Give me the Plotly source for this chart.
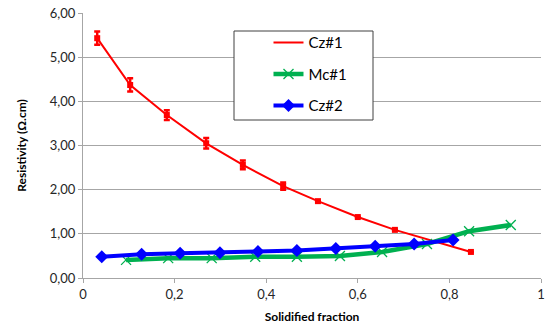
import plotly.graph_objects as go

# Cz#1 ingot: resistivity along the solidified fraction, with measurement error
cz1_x = [0.031, 0.103, 0.183, 0.269, 0.349, 0.437, 0.513, 0.600, 0.681, 0.847]
cz1_y = [5.43, 4.37, 3.69, 3.05, 2.56, 2.08, 1.74, 1.38, 1.09, 0.59]
cz1_err = [0.15, 0.15, 0.11, 0.12, 0.10, 0.08, 0.0, 0.0, 0.0, 0.0]

# Mc#1 ingot
mc1_x = [0.094, 0.186, 0.281, 0.376, 0.467, 0.561, 0.653, 0.751, 0.843, 0.934]
mc1_y = [0.41, 0.45, 0.45, 0.48, 0.48, 0.50, 0.59, 0.77, 1.06, 1.20]

# Cz#2 ingot
cz2_x = [0.041, 0.128, 0.212, 0.299, 0.382, 0.467, 0.552, 0.638, 0.723, 0.808]
cz2_y = [0.48, 0.54, 0.56, 0.57, 0.60, 0.62, 0.67, 0.72, 0.77, 0.86]

x_ticks = [0, 0.2, 0.4, 0.6, 0.8, 1]
x_ticktext = ["0", "0,2", "0,4", "0,6", "0,8", "1"]

FONT = "Lato, 'Open Sans', sans-serif"
GRID = "#a6a6a6"

fig = go.Figure()

fig.add_trace(go.Scatter(
    x=cz1_x, y=cz1_y, mode="lines+markers", name="Cz#1", legendgroup="a",
    line=dict(color="#ff0000", width=2),
    marker=dict(symbol="square", size=6, color="#ff0000"),
    error_y=dict(type="data", array=cz1_err, visible=True,
                 color="#ff0000", thickness=2.5, width=3),
    showlegend=False,
))
# legend entry for Cz#1 shows the line only
fig.add_trace(go.Scatter(
    x=[None], y=[None], mode="lines", name="Cz#1", legendgroup="a",
    line=dict(color="#ff0000", width=2),
))
fig.add_trace(go.Scatter(
    x=mc1_x, y=mc1_y, mode="lines+markers", name="Mc#1", legendgroup="b",
    line=dict(color="#00b050", width=4.5),
    marker=dict(symbol="x-thin", size=10, color="#00b050",
                line=dict(color="#00b050", width=1.3)),
))
fig.add_trace(go.Scatter(
    x=cz2_x, y=cz2_y, mode="lines+markers", name="Cz#2", legendgroup="c",
    line=dict(color="#0000ff", width=4),
    marker=dict(symbol="diamond", size=10, color="#0000ff"),
))

fig.update_layout(
    width=548, height=327,
    margin=dict(l=83, r=7, t=13, b=49),
    paper_bgcolor="white", plot_bgcolor="white",
    separators=", ",
    font=dict(family=FONT, size=13, color="#262626"),
    showlegend=True,
    legend=dict(
        x=0.405, y=0.95, xanchor="left", yanchor="top",
        bgcolor="rgba(0,0,0,0)", borderwidth=0,
        font=dict(family=FONT, size=15, color="#000000"),
        tracegroupgap=9, itemwidth=30,
    ),
    shapes=[dict(
        type="rect", xref="paper", yref="paper",
        x0=(234 - 83) / 458, x1=(373 - 83) / 458,
        y0=(278 - 120) / 265, y1=(278 - 31) / 265,
        line=dict(color="#404040", width=1), fillcolor="white", layer="above",
    )],
)

fig.update_xaxes(
    range=[0, 1], tickvals=x_ticks, ticktext=x_ticktext,
    showgrid=False, zeroline=False, automargin=False,
    showline=True, linecolor=GRID, linewidth=1,
    ticks="outside", ticklen=4, tickcolor=GRID,
    title=dict(text="<b>Solidified fraction</b>", font=dict(size=12, color="#000"),
               standoff=12),
)
fig.update_yaxes(
    range=[0, 6], dtick=1, tickformat=".2f",
    showgrid=True, gridcolor=GRID, gridwidth=1, zeroline=False, automargin=False,
    showline=True, linecolor=GRID, linewidth=1,
    ticks="outside", ticklen=4, tickcolor=GRID,
    title=dict(text="<b>Resistivity (Ω.cm)</b>", font=dict(size=12, color="#000"),
               standoff=20),
)

fig.write_html("out.html")
